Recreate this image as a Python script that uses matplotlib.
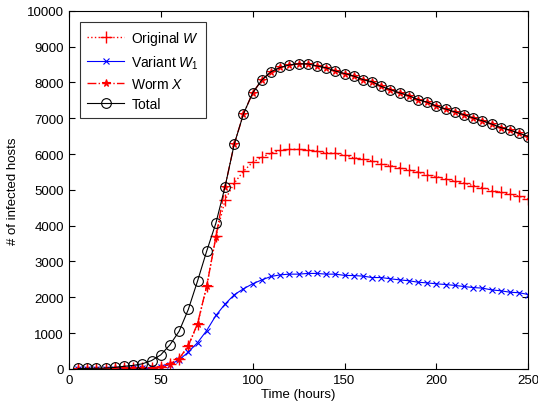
import matplotlib
matplotlib.use('Agg')
import matplotlib.pyplot as plt
import numpy as np

plt.rcParams['font.family'] = ['Liberation Sans', 'DejaVu Sans']
plt.rcParams['mathtext.fontset'] = 'custom'
plt.rcParams['mathtext.it'] = 'Liberation Sans:italic'
plt.rcParams['mathtext.rm'] = 'Liberation Sans'

hours = np.arange(5, 255, 5)

total = [10, 12, 15, 22, 40, 70, 95, 140, 230, 390,
         670, 1050, 1660, 2450, 3290, 4070, 5090, 6280, 7120, 7710,
         8070, 8300, 8420, 8490, 8520, 8520, 8460, 8410, 8320, 8250,
         8180, 8080, 8020, 7890, 7800, 7710, 7630, 7520, 7450, 7340,
         7260, 7180, 7100, 7010, 6930, 6840, 6740, 6670, 6580, 6490]

worm_x = [5, 5, 6, 8, 10, 12, 15, 20, 30, 50,
          140, 280, 650, 1260, 2310, 3680, 5090, 6280, 7120, 7710,
          8070, 8300, 8420, 8490, 8520, 8520, 8460, 8410, 8320, 8250,
          8180, 8080, 8020, 7890, 7800, 7710, 7630, 7520, 7450, 7340,
          7260, 7180, 7100, 7010, 6930, 6840, 6740, 6670, 6580, 6490]

original_w = [5, 5, 6, 8, 10, 12, 15, 20, 28, 45,
              130, 270, 640, 1240, 2300, 3700, 4720, 5190, 5520, 5770,
              5910, 6030, 6100, 6130, 6130, 6120, 6080, 6035, 6020, 5960,
              5895, 5865, 5810, 5725, 5680, 5615, 5560, 5495, 5420, 5370,
              5305, 5240, 5185, 5120, 5065, 4980, 4935, 4880, 4820, 4750]

variant_w1 = [3, 3, 4, 5, 6, 8, 10, 15, 25, 50,
              120, 250, 470, 730, 1070, 1490, 1810, 2070, 2235, 2375,
              2485, 2580, 2625, 2645, 2645, 2665, 2665, 2645, 2645, 2610,
              2605, 2590, 2550, 2550, 2515, 2485, 2460, 2420, 2400, 2375,
              2355, 2330, 2300, 2270, 2255, 2205, 2180, 2140, 2125, 2075]

fig = plt.figure(figsize=(5.38, 4.10), dpi=100)
ax = fig.add_axes([0.128, 0.098, 0.854, 0.873])

ax.plot(hours, original_w, color='red', linestyle=':', lw=1, marker='+', ms=8, mew=1,
        label='Original $W$')
ax.plot(hours, variant_w1, color='blue', linestyle='-', lw=0.8, marker='x', ms=4, mew=0.8,
        label='Variant $W_1$')
ax.plot(hours, worm_x, color='red', linestyle='-.', lw=1, marker='*', ms=5.5, mew=0.8,
        label='Worm $X$')
ax.plot(hours, total, color='black', linestyle='-', lw=0.8, marker='o', ms=7, mfc='none', mew=0.8,
        label='Total')

ax.set_xlim(0, 250)
ax.set_ylim(0, 10000)
ax.set_xticks(range(0, 251, 50))
ax.set_yticks(range(0, 10001, 1000))
ax.tick_params(direction='in', top=True, right=True, labelsize=9.5, length=4)
ax.set_xlabel('Time (hours)', fontsize=9.5, labelpad=2)
ax.set_ylabel('# of infected hosts', fontsize=9.5, labelpad=6)

leg = ax.legend(loc='upper left', fontsize=10, fancybox=False, edgecolor='black',
                handlelength=2.7, handletextpad=0.5, borderaxespad=0.8,
                labelspacing=0.45, borderpad=0.5)
leg.get_frame().set_linewidth(0.8)

fig.savefig('out.png', dpi=100)
